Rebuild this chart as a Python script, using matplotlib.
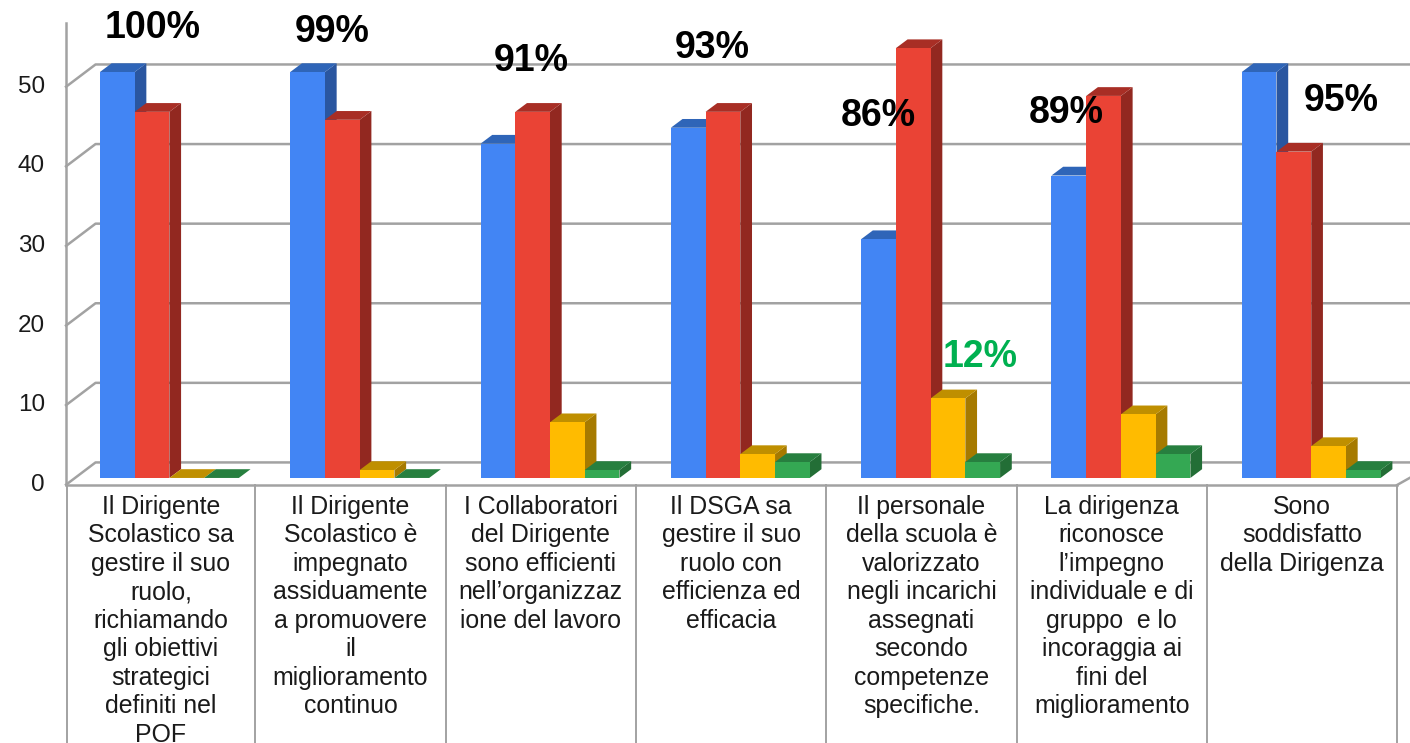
import matplotlib
matplotlib.use('Agg')
import matplotlib.pyplot as plt

blue_vals = [51, 51, 42, 44, 30, 38, 51]
red_vals = [46, 45, 46, 46, 54, 48, 41]
yellow_vals = [0, 1, 7, 3, 10, 8, 4]
green_vals = [0, 0, 1, 2, 2, 3, 1]

categories = [
    ['Il Dirigente', 'Scolastico sa', 'gestire il suo', 'ruolo,', 'richiamando',
     'gli obiettivi', 'strategici', 'definiti nel', 'POF'],
    ['Il Dirigente', 'Scolastico è', 'impegnato', 'assiduamente', 'a promuovere',
     'il', 'miglioramento', 'continuo'],
    ['I Collaboratori', 'del Dirigente', 'sono efficienti', 'nell’organizzaz', 'ione del lavoro'],
    ['Il DSGA sa', 'gestire il suo', 'ruolo con', 'efficienza ed', 'efficacia'],
    ['Il personale', 'della scuola è', 'valorizzato', 'negli incarichi', 'assegnati',
     'secondo', 'competenze', 'specifiche.'],
    ['La dirigenza', 'riconosce', 'l’impegno', 'individuale e di', 'gruppo  e lo',
     'incoraggia ai', 'fini del', 'miglioramento'],
    ['Sono', 'soddisfatto', 'della Dirigenza'],
]

y_ticks = [0, 10, 20, 30, 40, 50]
pct_labels = ['100%', '99%', '91%', '93%', '86%', '89%', '95%']
pct_x = [0.45, 1.392, 2.438, 3.389, 4.262, 5.25, 6.695]
pct_y = [56.5, 56.0, 52.4, 54.0, 45.5, 45.8, 47.3]

plt.rcParams['font.family'] = ['Liberation Sans', 'DejaVu Sans']

fig = plt.figure(figsize=(14.10, 7.43), dpi=100)
ax = fig.add_axes([0, 0, 1, 1])
ax.set_xlim(-0.352, 7.057)
ax.set_ylim(-33.3, 60.05)
ax.axis('off')

grid_col = '#A2A2A2'
bar_w = 0.1825
first = 0.173
dx = 0.0615   # depth of the fake 3d bars
dy = 1.1

# back wall grid + diagonal to the front axis
for v in y_ticks:
    ax.plot([-0.005, 0.15, 7.2], [v - 0.85, v + 1.95, v + 1.95], color=grid_col, lw=1.8, zorder=1)
ax.plot([-0.005, -0.005], [-0.88, 57.2], color=grid_col, lw=1.8, zorder=1)

# floor front edge and separators under it
sep_x = [-0.002] + [i - 0.0105 for i in range(1, 8)]
ax.plot([sep_x[0], sep_x[-1]], [-0.88, -0.88], color=grid_col, lw=1.8, zorder=2)
ax.plot([sep_x[-1], 7.2], [-0.88, 1.95], color=grid_col, lw=1.8, zorder=2)
for sx in sep_x:
    ax.plot([sx, sx], [-0.88, -33.3], color=grid_col, lw=1.4, zorder=2)

series = [
    (blue_vals, '#4285F4', '#2F65B8', '#2A56A0'),
    (red_vals, '#EA4335', '#A82E25', '#922820'),
    (yellow_vals, '#FFBB00', '#BF8F00', '#A67A00'),
    (green_vals, '#34A853', '#277F3F', '#236E36'),
]

z = 3
for i in range(len(categories)):
    for j, (vals, front, top, side) in enumerate(series):
        x0 = i + first + j * bar_w
        x1 = x0 + bar_w
        v = vals[i]
        ax.fill([x1, x1 + dx, x1 + dx, x1], [0, dy, v + dy, v], color=side, lw=0, zorder=z)
        ax.fill([x0, x0 + dx, x1 + dx, x1], [v, v + dy, v + dy, v], color=top, lw=0, zorder=z)
        ax.bar(x0, v, width=bar_w, align='edge', color=front, linewidth=0, zorder=z)
        z += 1

for v in y_ticks:
    ax.text(-0.116, v - 0.85, str(v), ha='right', va='center', fontsize=17.5, color='#1A1A1A', zorder=50)

line_step = 3.58
for i, lines in enumerate(categories):
    cx = (sep_x[i] + sep_x[i + 1]) / 2
    for k, line in enumerate(lines):
        ax.text(cx, -4.5 - k * line_step, line, ha='center', va='baseline',
                fontsize=17.9, color='#1A1A1A', zorder=50)

for lx, ly, lab in zip(pct_x, pct_y, pct_labels):
    ax.text(lx, ly, lab, ha='center', va='center', fontsize=27, fontweight='bold',
            color='black', zorder=60)
ax.text(4.798, 15.2, '12%', ha='center', va='center', fontsize=27, fontweight='bold',
        color='#00B050', zorder=60)

fig.savefig('out.png', dpi=100, facecolor='white')
